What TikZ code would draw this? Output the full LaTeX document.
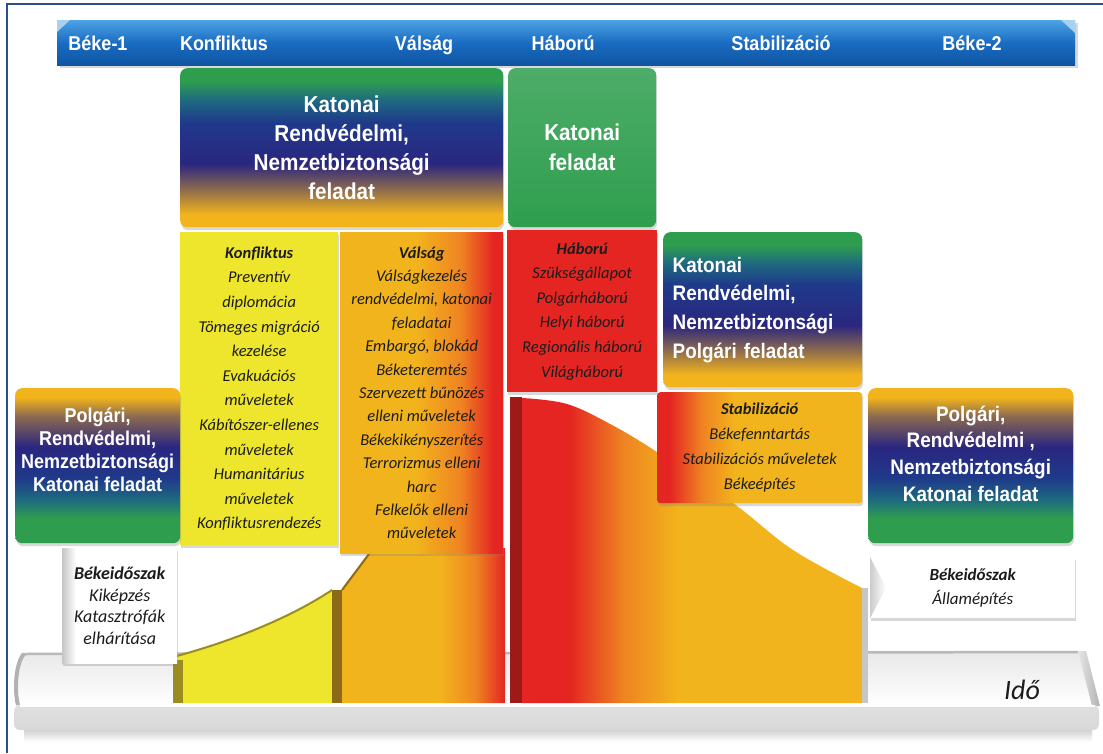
\documentclass[tikz,border=0pt]{standalone}
\usepackage{fontspec}
\setmainfont{Liberation Sans}
\newfontfamily\cimfont[FakeStretch=0.9]{Liberation Sans}
\newfontfamily\doltfont{Carlito}
\usetikzlibrary{shadows}

\definecolor{zold}{HTML}{2E9E4E}
\definecolor{tengerkek}{HTML}{1E6A80}
\definecolor{sotetkek}{HTML}{1F3A8A}
\definecolor{indigo}{HTML}{2A2680}
\definecolor{barna}{HTML}{8C6A4E}
\definecolor{arany}{HTML}{F2B41C}
\definecolor{narancs}{HTML}{EF8422}
\definecolor{piros}{HTML}{E42522}
\definecolor{sotetpiros}{HTML}{9E1A1A}
\definecolor{citrom}{HTML}{EDE62C}
\definecolor{oliva}{HTML}{9A8C1E}
\definecolor{okker}{HTML}{8C6A18}
\definecolor{fejfelso}{HTML}{4DA3E4}
\definecolor{fejkozep}{HTML}{1A6CC2}
\definecolor{fejalso}{HTML}{0F55A2}
\definecolor{keret}{HTML}{2B4F8A}
\definecolor{szoveg}{HTML}{1C1C1C}

\pgfdeclareverticalshading{katonai}{100bp}{color(0bp)=(arany); color(29bp)=(arany); color(37bp)=(barna); color(45bp)=(indigo); color(58bp)=(sotetkek); color(65bp)=(tengerkek); color(71bp)=(zold); color(100bp)=(zold)}
\pgfdeclareverticalshading{polgari}{100bp}{color(0bp)=(zold); color(33bp)=(zold); color(39bp)=(tengerkek); color(46bp)=(sotetkek); color(56bp)=(indigo); color(66bp)=(barna); color(72bp)=(arany); color(100bp)=(arany)}
\pgfdeclarehorizontalshading{valsag}{100bp}{color(0bp)=(arany); color(48bp)=(arany); color(62bp)=(narancs); color(72bp)=(piros); color(100bp)=(piros)}
\pgfdeclarehorizontalshading{stabil}{100bp}{color(0bp)=(piros); color(28bp)=(piros); color(36bp)=(narancs); color(44bp)=(arany); color(100bp)=(arany)}
\pgfdeclarehorizontalshading{haboruter}{100bp}{color(0bp)=(piros); color(32bp)=(piros); color(40bp)=(narancs); color(48bp)=(arany); color(100bp)=(arany)}
\pgfdeclarehorizontalshading{valsagter}{100bp}{color(0bp)=(arany); color(55bp)=(arany); color(66bp)=(narancs); color(75bp)=(piros); color(100bp)=(piros)}
\pgfdeclarehorizontalshading{bekeszurke}{100bp}{color(0bp)=(gray!45); color(25bp)=(gray!45); color(31bp)=(white); color(100bp)=(white)}

\begin{document}
\begin{tikzpicture}[x=1pt, y=-1pt,
  doboz/.style={anchor=north west, inner sep=0pt, align=center, drop shadow={opacity=.3, shadow xshift=1pt, shadow yshift=-3pt}},
  sotetdoboz/.style={doboz, rounded corners=7pt, text=white},
  dolt/.style={text=szoveg, font=\doltfont\itshape\fontsize{16.5}{#1}\selectfont},
  fejlec/.style={anchor=base, text=white, font=\cimfont\bfseries\fontsize{20}{24}\selectfont}]
\fill[white] (0,0) rectangle (1103,753);
\useasboundingbox (0,0) rectangle (1103,753);
% frame
\draw[keret, line width=2] (7,753) -- (7,4) -- (1103,4);

% header
\path[top color=fejfelso, bottom color=fejalso, middle color=fejkozep, drop shadow={opacity=.3, shadow yshift=-3pt}] (57,20) rectangle (1075,65);
\fill[fejfelso!50!white] (57,20) -- (70,20) -- (57,32) -- cycle;
\fill[fejfelso!50!white] (1061,20) -- (1075,20) -- (1075,33) -- cycle;
\node[fejlec] (beke1) at (98,50) {Béke-1};
\node[fejlec] (konfliktus) at (224,50) {Konfliktus};
\node[fejlec] (valsag) at (424,50) {Válság};
\node[fejlec] (haboru) at (563,50) {Háború};
\node[fejlec] (stabilizacio) at (781,50) {Stabilizáció};
\node[fejlec] (beke2) at (972,50) {Béke-2};

% floor
\shade[top color=gray!18, bottom color=white] (22,653) -- (1082,651) -- (1097,705) -- (15,705) -- cycle;
\draw[gray!55, line width=2.5] (22,654) -- (1080,652);
\draw[gray!60, line width=4] (24,654) .. controls (16,662) and (14,690) .. (18,705);
\shade[left color=gray!20, right color=gray!60] (1078,651) -- (1086,651) -- (1100,706) -- (1092,706) -- cycle;
\shade[top color=gray!25, middle color=gray!58, bottom color=gray!30, rounded corners=6pt] (14,705) rectangle (1099,730);
\draw[white, line width=1.2] (20,706) -- (1095,706);
\shade[top color=gray!35, bottom color=white] (24,730) rectangle (1092,742);

% areas
\fill[citrom] (173,703) -- (173,657) .. controls (230,642) and (290,618) .. (332,590) -- (332,703) -- cycle;
\draw[oliva, line width=2] (173,657) .. controls (230,642) and (290,618) .. (332,590);
\fill[oliva] (173,660) rectangle (183,703);
\fill[okker] (332,590) rectangle (342,703);
\shade[shading=valsagter] (342,703) -- (342,590) -- (372,548) -- (505,548) -- (505,703) -- cycle;
\draw[okker, line width=2] (342,590) -- (372,550);
\shade[shading=haboruter] (522,703) -- plot[smooth, tension=.6] coordinates {(522,398) (567,404) (612,425) (657,452) (733,503) (793,550) (862,588)} -- (862,703) -- cycle;
\fill[sotetpiros] (510,397) rectangle (522,703);
\fill[gray!45] (862,588) rectangle (868,703);

% boxes
\node[sotetdoboz, shading=katonai, minimum width=323, minimum height=159, font=\cimfont\bfseries\fontsize{23}{29}\selectfont] (katonai1) at (180,68) {Katonai\\Rendvédelmi,\\Nemzetbiztonsági\\feladat};
\node[sotetdoboz, top color=zold!85!white, bottom color=zold, minimum width=148, minimum height=159, font=\cimfont\bfseries\fontsize{23}{30}\selectfont] (katonai2) at (508,68) {Katonai\\feladat};
\node[doboz, fill=citrom, minimum width=158, minimum height=313, dolt=24.6] (konfbox) at (180,232) {{\bfseries Konfliktus}\\Preventív\\diplomácia\\Tömeges migráció\\kezelése\\Evakuációs\\műveletek\\Kábítószer-ellenes\\műveletek\\Humanitárius\\műveletek\\Konfliktusrendezés};
\node[doboz, shading=valsag, minimum width=163, minimum height=321, dolt=23.4] (valsbox) at (340,232) {{\bfseries Válság}\\Válságkezelés\\rendvédelmi, katonai\\feladatai\\Embargó, blokád\\Béketeremtés\\Szervezett bűnözés\\elleni műveletek\\Békekikényszerítés\\Terrorizmus elleni\\harc\\Felkelők elleni\\műveletek};
\node[doboz, fill=piros, minimum width=150, minimum height=162, dolt=24.6] (habbox) at (507,230) {{\bfseries Háború}\\Szükségállapot\\Polgárháború\\Helyi háború\\Regionális háború\\Világháború};
\node[sotetdoboz, shading=katonai, minimum width=199, minimum height=155, text width=180, align=left, font=\cimfont\bfseries\fontsize{21}{28.7}\selectfont] (katonai3) at (663,232) {Katonai\\Rendvédelmi,\\Nemzetbiztonsági\\Polgári feladat};
\node[doboz, shading=stabil, rounded corners=3pt, minimum width=205, minimum height=111, dolt=25] (stabbox) at (657,392) {{\bfseries Stabilizáció}\\Békefenntartás\\Stabilizációs műveletek\\Békeépítés};
\node[sotetdoboz, shading=polgari, minimum width=165, minimum height=155] (polgbal) at (15,388) {};
\node[text=white, align=center, font=\cimfont\bfseries\fontsize{20}{23}\selectfont] (polgbalszoveg) at ([yshift=16pt]polgbal.center) {Polgári,\\Rendvédelmi,\\Nemzetbiztonsági\\Katonai feladat};
\node[sotetdoboz, shading=polgari, minimum width=205, minimum height=155] (polgjobb) at (868,388) {};
\node[text=white, align=center, font=\cimfont\bfseries\fontsize{21}{26.7}\selectfont] (polgjobbszoveg) at ([yshift=12pt]polgjobb.center) {Polgári,\\Rendvédelmi ,\\Nemzetbiztonsági\\Katonai feladat};
\node[doboz, shading=bekeszurke, minimum width=115, minimum height=115, text=szoveg, font=\doltfont\itshape\fontsize{18}{21.7}\selectfont] (bekebal) at (62,548) {{\bfseries Békeidőszak}\\Kiképzés\\Katasztrófák\\elhárítása};
\node[doboz, fill=white, minimum width=205, minimum height=61, text=szoveg, font=\doltfont\itshape\fontsize{17}{23.5}\selectfont] (bekejobb) at (870,557) {{\bfseries Békeidőszak}\\Államépítés};
\shade[left color=gray!40, right color=white] (bekejobb.north west) -- ([xshift=16pt]bekejobb.west) -- (bekejobb.south west) -- cycle;

% time
\node[text=szoveg, font=\doltfont\itshape\fontsize{28}{30}\selectfont] (ido) at (1022,690) {Idő};
\end{tikzpicture}
\end{document}
